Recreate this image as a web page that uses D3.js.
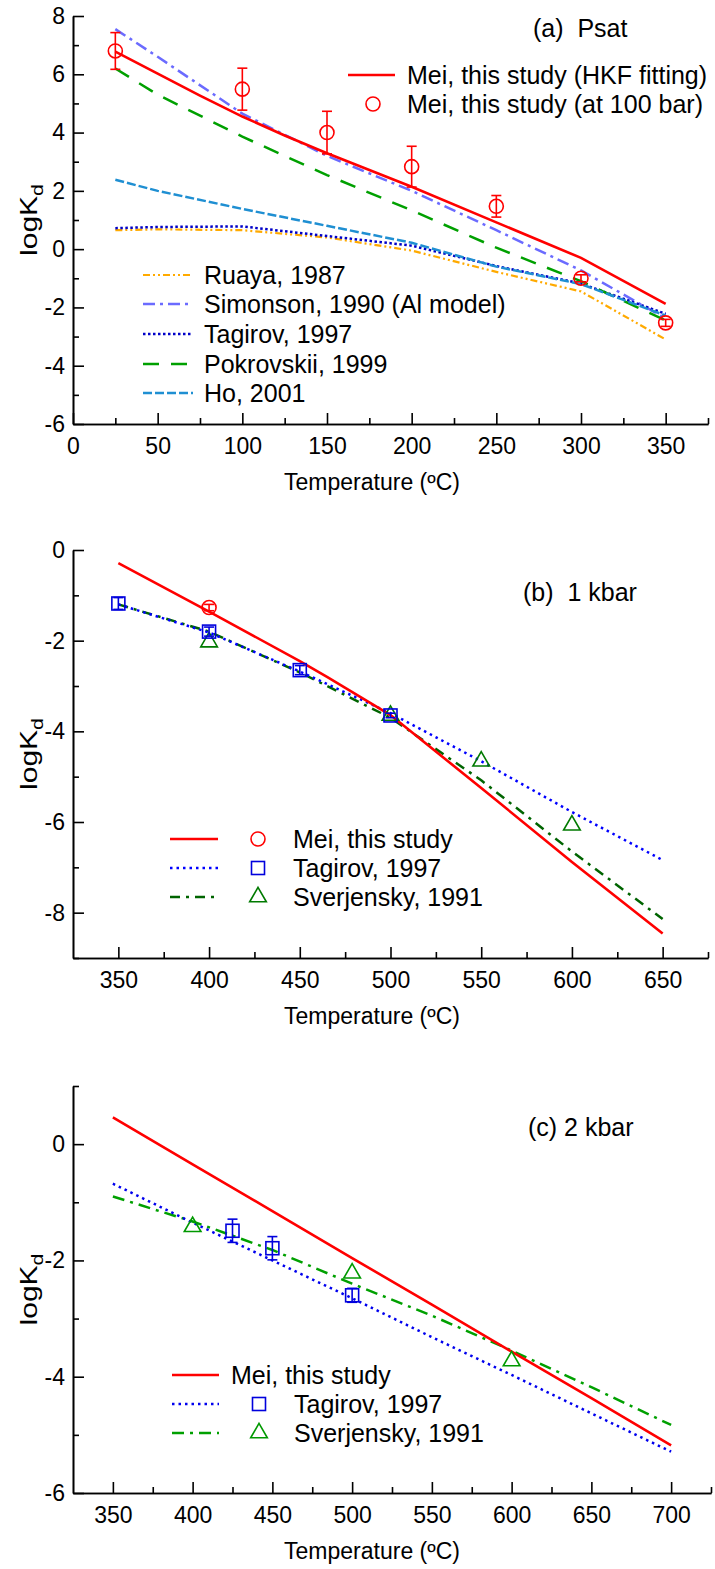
<!DOCTYPE html>
<html>
<head>
<meta charset="utf-8">
<script src="https://cdn.jsdelivr.net/npm/d3@7"></script>
<style>
  body { margin: 0; background: #fff; }
  svg text { font-family: "Liberation Sans", Arial, sans-serif; fill: #000; }
  .axis path, .axis line { stroke: #000; stroke-width: 1.6; }
  .axis text { font-size: 23px; }
</style>
</head>
<body>
<div id="wrapper"></div>
<script>
//1_Data
// panel (a) Psat
const tempA = [25, 50, 75, 100, 125, 150, 200, 250, 300, 350]
const meiFitA = [6.78, 6.02, 5.27, 4.55, 3.9, 3.29, 2.14, 0.92, -0.3, -1.88]
const meiPtsT_A = [25, 100, 150, 200, 250, 300, 350]
const meiPtsA = [6.8, 5.49, 4.0, 2.83, 1.47, -1.0, -2.53]
const meiErrA = [0.63, 0.72, 0.73, 0.7, 0.37, 0.12, 0.12]
const tempModelsA = [25, 50, 100, 150, 200, 250, 300, 350]
const ruayaA = [0.65, 0.68, 0.65, 0.4, -0.05, -0.78, -1.45, -3.1]
const simonsonA = [7.55, 6.6, 4.65, 3.2, 2.0, 0.65, -0.73, -2.38]
const tagirovA = [0.72, 0.76, 0.78, 0.45, 0.12, -0.58, -1.18, -2.22]
const pokrovskiiA = [6.2, 5.3, 3.86, 2.54, 1.33, 0.05, -1.1, -2.45]
const hoA = [2.38, 2.0, 1.38, 0.8, 0.22, -0.6, -1.2, -2.28]

// panel (b) 1 kbar
const tempB = [350, 400, 450, 465, 500, 550, 600, 650]
const meiFitB = [-0.29, -1.36, -2.45, -2.8, -3.64, -5.25, -6.88, -8.46]
const meiPtsT_B = [400]
const meiPtsB = [-1.27]
const meiErrB = [0.07]
const tempModelsB = [350, 400, 450, 500, 550, 600, 650]
const tagirovB = [-1.2, -1.82, -2.68, -3.6, -4.66, -5.78, -6.84]
const sverjenskyB = [-1.2, -1.8, -2.7, -3.7, -5.08, -6.65, -8.14]
const tagPtsT_B = [350, 400, 450, 500]
const tagPtsB = [-1.18, -1.8, -2.65, -3.65]
const tagErrB = [0.13, 0.1, 0.1, 0.05]
const svePtsT_B = [400, 500, 550, 600]
const svePtsB = [-2.03, -3.65, -4.66, -6.07]

// panel (c) 2 kbar
const tempC = [350, 400, 450, 500, 550, 600, 650, 700]
const meiFitC = [0.46, -0.35, -1.15, -1.96, -2.76, -3.57, -4.37, -5.18]
const tagirovC = [-0.68, -1.35, -2.0, -2.65, -3.32, -3.97, -4.63, -5.29]
const sverjenskyC = [-0.9, -1.33, -1.82, -2.4, -2.95, -3.55, -4.18, -4.83]
const tagPtsT_C = [425, 450, 500]
const tagPtsC = [-1.49, -1.79, -2.6]
const tagErrC = [0.2, 0.2, 0.12]
const svePtsT_C = [400, 500, 600]
const svePtsC = [-1.42, -2.22, -3.73]

const zip = (xs, ys) => xs.map((x, i) => [x, ys[i]])
const plainFormat = d => String(d)   // hyphen minus, like the original

//2_Canvas
const svg = d3.select("#wrapper").append("svg")
  .attr("width", 715)
  .attr("height", 1569)

//3_One panel
function drawPanel(p) {
  const xScale = d3.scaleLinear().domain(p.xDomain).range([73, p.xRight])
  const yScale = d3.scaleLinear().domain(p.yDomain).range([p.yBottom, p.yTop])
  const g = svg.append("g")

  // axes, ticks pointing inward
  g.append("g").attr("class", "axis")
    .attr("transform", `translate(0,${p.yBottom})`)
    .call(d3.axisBottom(xScale).tickValues(p.xMinor).tickSize(-6).tickSizeOuter(0).tickFormat(""))
  g.append("g").attr("class", "axis")
    .attr("transform", `translate(0,${p.yBottom})`)
    .call(d3.axisBottom(xScale).tickValues(p.xMajor).tickSize(-11).tickSizeOuter(0).tickPadding(14).tickFormat(plainFormat))
  g.append("g").attr("class", "axis")
    .attr("transform", "translate(73,0)")
    .call(d3.axisLeft(yScale).tickValues(p.yMinor).tickSize(-6).tickSizeOuter(0).tickFormat(""))
  g.append("g").attr("class", "axis")
    .attr("transform", "translate(73,0)")
    .call(d3.axisLeft(yScale).tickValues(p.yMajor).tickSize(-11).tickSizeOuter(0).tickPadding(8).tickFormat(plainFormat))
  g.selectAll(".axis .domain").attr("stroke-width", 2)

  // axis titles
  g.append("text")
    .attr("x", 372).attr("y", p.yBottom + 66)
    .attr("text-anchor", "middle")
    .style("font-size", "23px")
    .text("Temperature (ºC)")
  const yl = g.append("text")
    .attr("transform", `translate(37,${(p.yTop + p.yBottom) / 2}) rotate(-90) scale(1.25,1)`)
    .attr("text-anchor", "middle")
    .style("font-size", "24px")
  yl.append("tspan").text("logK")
  yl.append("tspan").attr("dy", 6).style("font-size", "17px").text("d")

  g.append("text")
    .attr("x", p.title[0]).attr("y", p.title[1])
    .style("font-size", "25px")
    .style("white-space", "pre")
    .text(p.title[2])

  const lineGenerator = d3.line()
    .x(d => xScale(d[0]))
    .y(d => yScale(d[1]))

  p.lines.forEach(l => {
    g.append("path")
      .attr("d", lineGenerator(l.data))
      .attr("fill", "none")
      .attr("stroke", l.color)
      .attr("stroke-width", l.width || 2.5)
      .attr("stroke-dasharray", l.dash || null)
  })

  p.points.forEach(s => {
    const pg = g.append("g")
    s.data.forEach((d, i) => {
      const cx = xScale(d[0]), cy = yScale(d[1])
      if (s.err) {
        const e = s.err[i]
        pg.append("line").attr("x1", cx).attr("x2", cx)
          .attr("y1", yScale(d[1] - e)).attr("y2", yScale(d[1] + e))
          .attr("stroke", s.color).attr("stroke-width", 1.6)
        ;[d[1] - e, d[1] + e].forEach(v => {
          pg.append("line").attr("x1", cx - 5).attr("x2", cx + 5)
            .attr("y1", yScale(v)).attr("y2", yScale(v))
            .attr("stroke", s.color).attr("stroke-width", 1.6)
        })
      }
      drawMarker(pg, s.shape, cx, cy, s.color)
    })
  })

  // legend
  p.legend.forEach(r => {
    if (r.line) {
      g.append("line")
        .attr("x1", r.line[0]).attr("x2", r.line[1])
        .attr("y1", r.y).attr("y2", r.y)
        .attr("stroke", r.color)
        .attr("stroke-width", r.width || 2.5)
        .attr("stroke-dasharray", r.dash || null)
    }
    if (r.marker) drawMarker(g, r.marker, r.mx, r.y, r.mcolor || r.color)
    g.append("text")
      .attr("x", r.tx).attr("y", r.y + 9)
      .style("font-size", "25px")
      .text(r.label)
  })
}

function drawMarker(sel, shape, cx, cy, color) {
  if (shape === "circle") {
    sel.append("circle").attr("cx", cx).attr("cy", cy).attr("r", 7)
      .attr("fill", "none").attr("stroke", color).attr("stroke-width", 1.6)
  } else if (shape === "square") {
    sel.append("rect").attr("x", cx - 6.5).attr("y", cy - 6.5)
      .attr("width", 13).attr("height", 13)
      .attr("fill", "none").attr("stroke", color).attr("stroke-width", 1.6)
  } else if (shape === "triangle") {
    sel.append("path")
      .attr("d", d3.symbol(d3.symbolTriangle, 120)())
      .attr("transform", `translate(${cx},${cy})`)
      .attr("fill", "none").attr("stroke", color).attr("stroke-width", 1.6)
  }
}

//4_Panels
drawPanel({
  xDomain: [0, 375], xRight: 708,
  yDomain: [-6, 8], yBottom: 424, yTop: 16,
  xMajor: d3.range(0, 351, 50), xMinor: d3.range(25, 376, 50),
  yMajor: d3.range(-6, 9, 2), yMinor: d3.range(-5, 8, 2),
  title: [533, 37, "(a)  Psat"],
  lines: [
    { data: zip(tempModelsA, ruayaA), color: "#ffaa00", dash: "7,3,2,3,2,3", width: 2.2 },
    { data: zip(tempModelsA, simonsonA), color: "#6b6bff", dash: "12,5,3,5" },
    { data: zip(tempModelsA, tagirovA), color: "#0000c8", dash: "2.5,2.5" },
    { data: zip(tempModelsA, pokrovskiiA), color: "#00a000", dash: "16,12" },
    { data: zip(tempModelsA, hoA), color: "#1f8fd2", dash: "9,3" },
    { data: zip(tempA, meiFitA), color: "#ff0000", width: 2.6 },
  ],
  points: [
    { data: zip(meiPtsT_A, meiPtsA), err: meiErrA, shape: "circle", color: "#ff0000" },
  ],
  legend: [
    { y: 75, line: [348, 395], color: "#ff0000", width: 2.6, tx: 407, label: "Mei, this study (HKF fitting)" },
    { y: 104, marker: "circle", mx: 373, color: "#ff0000", tx: 407, label: "Mei, this study (at 100 bar)" },
    { y: 275, line: [143, 193], color: "#ffaa00", dash: "7,3,2,3,2,3", width: 2.2, tx: 204, label: "Ruaya, 1987" },
    { y: 304, line: [143, 193], color: "#6b6bff", dash: "12,5,3,5", tx: 204, label: "Simonson, 1990 (Al model)" },
    { y: 334, line: [143, 193], color: "#0000c8", dash: "2.5,2.5", tx: 204, label: "Tagirov, 1997" },
    { y: 364, line: [143, 193], color: "#00a000", dash: "16,12", tx: 204, label: "Pokrovskii, 1999" },
    { y: 393, line: [143, 193], color: "#1f8fd2", dash: "9,3", tx: 204, label: "Ho, 2001" },
  ],
})

drawPanel({
  xDomain: [325, 675], xRight: 708,
  yDomain: [-9, 0], yBottom: 958, yTop: 550,
  xMajor: d3.range(350, 651, 50), xMinor: d3.range(375, 676, 50),
  yMajor: [-8, -6, -4, -2, 0], yMinor: [-9, -7, -5, -3, -1],
  title: [523, 601, "(b)  1 kbar"],
  lines: [
    { data: zip(tempModelsB, sverjenskyB), color: "#006400", dash: "10,6,3,6" },
    { data: zip(tempModelsB, tagirovB), color: "#0000ff", dash: "2.5,4" },
    { data: zip(tempB, meiFitB), color: "#ff0000", width: 2.6 },
  ],
  points: [
    { data: zip(svePtsT_B, svePtsB), shape: "triangle", color: "#007a00" },
    { data: zip(tagPtsT_B, tagPtsB), err: tagErrB, shape: "square", color: "#0000dd" },
    { data: zip(meiPtsT_B, meiPtsB), err: meiErrB, shape: "circle", color: "#ff0000" },
  ],
  legend: [
    { y: 839, line: [170, 218], color: "#ff0000", width: 2.6, marker: "circle", mx: 258, tx: 293, label: "Mei, this study" },
    { y: 868, line: [170, 218], color: "#0000ff", dash: "2.5,4", marker: "square", mx: 258, mcolor: "#0000dd", tx: 293, label: "Tagirov, 1997" },
    { y: 897, line: [170, 218], color: "#006400", dash: "10,6,3,6", marker: "triangle", mx: 258, mcolor: "#007a00", tx: 293, label: "Sverjensky, 1991" },
  ],
})

drawPanel({
  xDomain: [325, 725], xRight: 711,
  yDomain: [-6, 1], yBottom: 1493, yTop: 1086,
  xMajor: d3.range(350, 701, 50), xMinor: d3.range(375, 726, 50),
  yMajor: [-6, -4, -2, 0], yMinor: [-5, -3, -1, 1],
  title: [528, 1136, "(c) 2 kbar"],
  lines: [
    { data: zip(tempC, sverjenskyC), color: "#00a000", dash: "12,6,3,6" },
    { data: zip(tempC, tagirovC), color: "#0000ee", dash: "2.5,4" },
    { data: zip(tempC, meiFitC), color: "#ff0000", width: 2.6 },
  ],
  points: [
    { data: zip(svePtsT_C, svePtsC), shape: "triangle", color: "#009900" },
    { data: zip(tagPtsT_C, tagPtsC), err: tagErrC, shape: "square", color: "#0000dd" },
  ],
  legend: [
    { y: 1375, line: [172, 219], color: "#ff0000", width: 2.6, tx: 231, label: "Mei, this study" },
    { y: 1404, line: [172, 219], color: "#0000ee", dash: "2.5,4", marker: "square", mx: 259, mcolor: "#0000dd", tx: 294, label: "Tagirov, 1997" },
    { y: 1433, line: [172, 219], color: "#00a000", dash: "12,6,3,6", marker: "triangle", mx: 259, mcolor: "#009900", tx: 294, label: "Sverjensky, 1991" },
  ],
})
</script>
</body>
</html>
